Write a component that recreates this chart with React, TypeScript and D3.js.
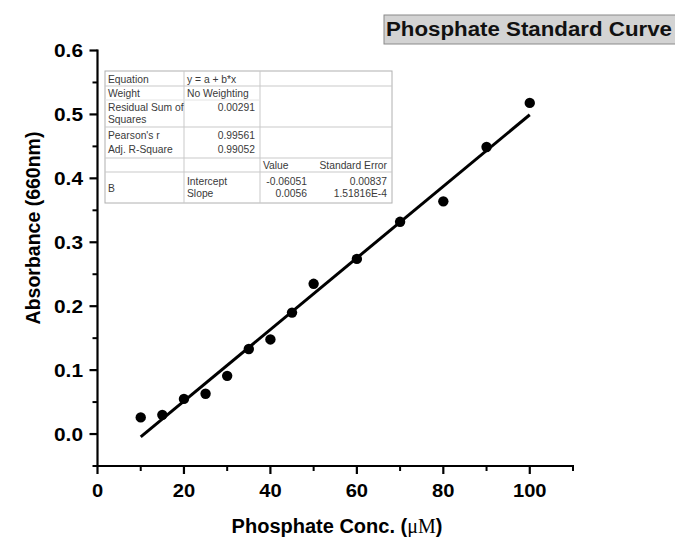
import React from "react";
import * as d3 from "d3";

const concentrations = [10, 15, 20, 25, 30, 35, 40, 45, 50, 60, 70, 80, 90, 100];
const absorbance = [0.026, 0.03, 0.055, 0.063, 0.091, 0.133, 0.148, 0.19, 0.235, 0.274, 0.332, 0.364, 0.449, 0.518];
const fitIntercept = -0.06051;
const fitSlope = 0.0056;
const fitRange = [10, 100];
const xTicks = [0, 20, 40, 60, 80, 100];
const xMinorTicks = [10, 30, 50, 70, 90, 110];
const yTicks = [0, 0.1, 0.2, 0.3, 0.4, 0.5, 0.6];
const yMinorTicks = [-0.05, 0.05, 0.15, 0.25, 0.35, 0.45, 0.55];

const tableRows = [
  { label: ["Equation"], value: "y = a + b*x", align: "start" },
  { label: ["Weight"], value: "No Weighting", align: "start" },
  { label: ["Residual Sum of", "Squares"], value: "0.00291", align: "end" },
  { label: ["Pearson's r"], value: "0.99561", align: "end" },
  { label: ["Adj. R-Square"], value: "0.99052", align: "end" },
];
const paramHeader = ["Value", "Standard Error"];
const paramRows = [
  { name: "Intercept", value: "-0.06051", err: "0.00837" },
  { name: "Slope", value: "0.0056", err: "1.51816E-4" },
];

export default function App() {
  const W = 675, H = 537;
  const x = d3.scaleLinear().domain([0, 110]).range([97.5, 573]);
  const y = d3.scaleLinear().domain([-0.05, 0.6]).range([466, 50.5]);
  const font = "'Liberation Sans', Arial, sans-serif";
  const line = d3.line<number>().x((d) => x(d)).y((d) => y(fitIntercept + fitSlope * d));

  // table geometry
  const tL = 105, tR = 392, c1 = 184, c2 = 260;
  const tableFont = 10.3;
  const tc = "#3a3a3a";
  const gl = "#c9c9c9";
  const tickFont = 18;
  const xLabelWidth = (s: string) => s.length * 0.556 * tickFont * 1.12;

  return (
    <svg width={W} height={H} style={{ position: "absolute", left: 0, top: 0, background: "#fff" }}>
      {/* Title box */}
      <rect x={384} y={15} width={300} height={29} fill="#d3d3d3" stroke="#8a8a8a" strokeWidth={1} />
      <text x={386} y={36} fontFamily={font} fontWeight="bold" fontSize={19.5} fill="#111" textLength={286} lengthAdjust="spacingAndGlyphs">Phosphate Standard Curve</text>

      {/* Axes */}
      <line x1={x(0)} x2={x(0)} y1={y(0.6) - 1} y2={y(-0.05) + 1} stroke="#000" strokeWidth={2.2} />
      <line x1={x(0) - 1} x2={x(110) + 1} y1={y(-0.05)} y2={y(-0.05)} stroke="#000" strokeWidth={2.2} />
      {xTicks.map((t) => (
        <g key={"xt" + t}>
          <line x1={x(t)} x2={x(t)} y1={y(-0.05)} y2={y(-0.05) + 8} stroke="#000" strokeWidth={2.2} />
          <text x={x(t)} y={497} textAnchor="middle" fontFamily={font} fontWeight="bold" fontSize={tickFont} fill="#000" textLength={xLabelWidth(String(t))} lengthAdjust="spacingAndGlyphs">{t}</text>
        </g>
      ))}
      {xMinorTicks.map((t) => (
        <line key={"xm" + t} x1={x(t)} x2={x(t)} y1={y(-0.05)} y2={y(-0.05) + 5} stroke="#000" strokeWidth={2} />
      ))}
      {yTicks.map((t) => (
        <g key={"yt" + t}>
          <line x1={x(0) - 8} x2={x(0)} y1={y(t)} y2={y(t)} stroke="#000" strokeWidth={2.2} />
          <text x={83} y={y(t) + 6.5} textAnchor="end" fontFamily={font} fontWeight="bold" fontSize={tickFont} fill="#000" textLength={29} lengthAdjust="spacingAndGlyphs">{t.toFixed(1)}</text>
        </g>
      ))}
      {yMinorTicks.map((t) => (
        <line key={"ym" + t} x1={x(0) - 5} x2={x(0)} y1={y(t)} y2={y(t)} stroke="#000" strokeWidth={2} />
      ))}

      {/* Axis titles */}
      <text transform={`translate(40,${228}) rotate(-90)`} textAnchor="middle" fontFamily={font} fontWeight="bold" fontSize={19.5} fill="#000">Absorbance (660nm)</text>
      <text x={337} y={533} textAnchor="middle" fontFamily={font} fontWeight="bold" fontSize={20} fill="#000">
        Phosphate Conc. (<tspan fontFamily="'Liberation Serif', 'DejaVu Serif', serif" fontWeight="normal">μM</tspan>)
      </text>

      {/* Fit line */}
      <path d={line(fitRange) || ""} stroke="#000" strokeWidth={3} fill="none" />

      {/* Points */}
      {concentrations.map((c, i) => (
        <circle key={"p" + i} cx={x(c)} cy={y(absorbance[i])} r={5.2} fill="#000" />
      ))}

      {/* Table */}
      <g fontFamily={font} fontSize={tableFont} fill={tc}>
        <rect x={tL} y={71} width={tR - tL} height={132} fill="#fff" stroke="#b0b0b0" strokeWidth={1} />
        <line x1={c1} x2={c1} y1={71} y2={203} stroke={gl} />
        <line x1={c2} x2={c2} y1={71} y2={203} stroke={gl} />
        <line x1={tL} x2={tR} y1={86} y2={86} stroke={gl} />
        <line x1={tL} x2={c2} y1={100} y2={100} stroke="#e4e4e4" />
        <line x1={tL} x2={tR} y1={127} y2={127} stroke={gl} />
        <line x1={tL} x2={tR} y1={158} y2={158} stroke={gl} />
        <line x1={tL} x2={tR} y1={172} y2={172} stroke={gl} />
        {tableRows.map((r, i) => {
          const cy = [79, 93, 107, 135, 149][i];
          return (
            <g key={"tr" + i}>
              {r.label.map((l, j) => (
                <text key={j} x={tL + 3} y={cy + 3.5 + j * 12}>{l}</text>
              ))}
              <text x={r.align === "start" ? c1 + 3 : c2 - 5} y={cy + 3.5} textAnchor={r.align === "start" ? "start" : "end"}>{r.value}</text>
            </g>
          );
        })}
        <text x={c2 + 3} y={168.5}>{paramHeader[0]}</text>
        <text x={tR - 5} y={168.5} textAnchor="end">{paramHeader[1]}</text>
        <text x={tL + 3} y={192}>B</text>
        {paramRows.map((r, i) => {
          const yy = 184.5 + i * 12;
          return (
            <g key={"pr" + i}>
              <text x={c1 + 3} y={yy}>{r.name}</text>
              <text x={307} y={yy} textAnchor="end">{r.value}</text>
              <text x={tR - 5} y={yy} textAnchor="end">{r.err}</text>
            </g>
          );
        })}
      </g>
    </svg>
  );
}
